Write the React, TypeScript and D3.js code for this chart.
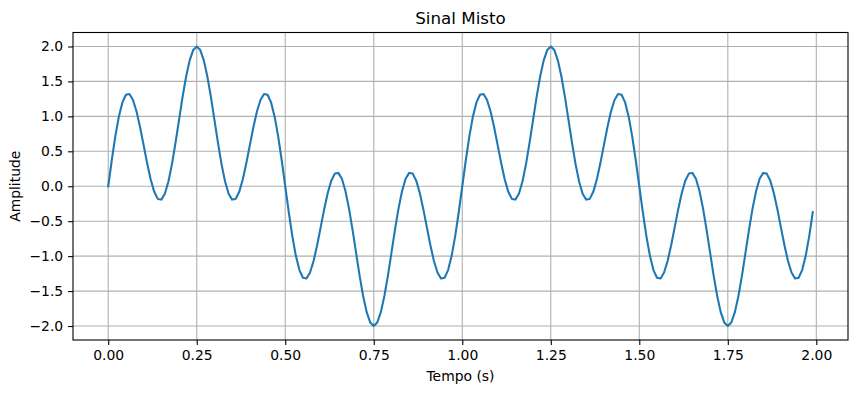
import React, { useEffect, useRef } from "react";
import * as d3 from "d3";

// sample spacing in seconds
const sampleStep = 0.01;

// signal amplitude, one value per sample (0.00 .. 1.99 s)
const amplitude = [
  0, 0.372, 0.713, 0.996, 1.2, 1.309, 1.319, 1.235, 1.07, 0.845,
  0.588, 0.328, 0.097, -0.08, -0.181, -0.191, -0.107, 0.067, 0.317, 0.621,
  0.951, 1.278, 1.57, 1.801, 1.949, 2.0, 1.949, 1.801, 1.57, 1.278,
  0.951, 0.621, 0.317, 0.067, -0.107, -0.191, -0.181, -0.08, 0.097, 0.328,
  0.588, 0.845, 1.07, 1.235, 1.319, 1.309, 1.2, 0.996, 0.713, 0.372,
  0, -0.372, -0.713, -0.996, -1.2, -1.309, -1.319, -1.235, -1.07, -0.845,
  -0.588, -0.328, -0.097, 0.08, 0.181, 0.191, 0.107, -0.067, -0.317, -0.621,
  -0.951, -1.278, -1.57, -1.801, -1.949, -2.0, -1.949, -1.801, -1.57, -1.278,
  -0.951, -0.621, -0.317, -0.067, 0.107, 0.191, 0.181, 0.08, -0.097, -0.328,
  -0.588, -0.845, -1.07, -1.235, -1.319, -1.309, -1.2, -0.996, -0.713, -0.372,
  0, 0.372, 0.713, 0.996, 1.2, 1.309, 1.319, 1.235, 1.07, 0.845,
  0.588, 0.328, 0.097, -0.08, -0.181, -0.191, -0.107, 0.067, 0.317, 0.621,
  0.951, 1.278, 1.57, 1.801, 1.949, 2.0, 1.949, 1.801, 1.57, 1.278,
  0.951, 0.621, 0.317, 0.067, -0.107, -0.191, -0.181, -0.08, 0.097, 0.328,
  0.588, 0.845, 1.07, 1.235, 1.319, 1.309, 1.2, 0.996, 0.713, 0.372,
  0, -0.372, -0.713, -0.996, -1.2, -1.309, -1.319, -1.235, -1.07, -0.845,
  -0.588, -0.328, -0.097, 0.08, 0.181, 0.191, 0.107, -0.067, -0.317, -0.621,
  -0.951, -1.278, -1.57, -1.801, -1.949, -2.0, -1.949, -1.801, -1.57, -1.278,
  -0.951, -0.621, -0.317, -0.067, 0.107, 0.191, 0.181, 0.08, -0.097, -0.328,
  -0.588, -0.845, -1.07, -1.235, -1.319, -1.309, -1.2, -0.996, -0.713, -0.372,
];

const xTicks = [0, 0.25, 0.5, 0.75, 1.0, 1.25, 1.5, 1.75, 2.0];
const yTicks = [-2.0, -1.5, -1.0, -0.5, 0.0, 0.5, 1.0, 1.5, 2.0];

const title = "Sinal Misto";
const xLabel = "Tempo (s)";
const yLabel = "Amplitude";

const SignalChart = () => {
  const chartRef = useRef<SVGSVGElement>(null);

  useEffect(() => {
    const width = 857;
    const height = 393;
    const marginLeft = 73;
    const marginRight = 9;
    const marginTop = 32.5;
    const marginBottom = 53;
    const font = "DejaVu Sans, sans-serif";

    const data = amplitude.map((v, i) => ({ t: i * sampleStep, v }));

    const tMax = d3.max(data, (d) => d.t);
    const padX = tMax * 0.05;
    const xScale = d3
      .scaleLinear()
      .domain([-padX, tMax + padX])
      .range([marginLeft, width - marginRight]);
    const yScale = d3
      .scaleLinear()
      .domain([-2.2, 2.2])
      .range([height - marginBottom, marginTop]);

    const svg = d3.select(chartRef.current);
    svg.selectAll("*").remove();

    svg
      .attr("width", width)
      .attr("height", height)
      .attr("viewBox", [0, 0, width, height])
      .style("background", "#fff");

    // grid
    svg
      .append("g")
      .selectAll("line")
      .data(xTicks)
      .join("line")
      .attr("x1", (d) => xScale(d))
      .attr("x2", (d) => xScale(d))
      .attr("y1", marginTop)
      .attr("y2", height - marginBottom)
      .attr("stroke", "#b0b0b0")
      .attr("stroke-width", 1.1);
    svg
      .append("g")
      .selectAll("line")
      .data(yTicks)
      .join("line")
      .attr("y1", (d) => yScale(d))
      .attr("y2", (d) => yScale(d))
      .attr("x1", marginLeft)
      .attr("x2", width - marginRight)
      .attr("stroke", "#b0b0b0")
      .attr("stroke-width", 1.1);

    const line = d3
      .line<{ t: number; v: number }>()
      .x((d) => xScale(d.t))
      .y((d) => yScale(d.v));

    svg
      .append("path")
      .datum(data)
      .attr("fill", "none")
      .attr("stroke", "#1f77b4")
      .attr("stroke-width", 2.08)
      .attr("stroke-linejoin", "round")
      .attr("stroke-linecap", "square")
      .attr("d", line);

    // frame
    svg
      .append("rect")
      .attr("x", marginLeft)
      .attr("y", marginTop)
      .attr("width", width - marginRight - marginLeft)
      .attr("height", height - marginBottom - marginTop)
      .attr("fill", "none")
      .attr("stroke", "#000")
      .attr("stroke-width", 1.1);

    const fmt = (digits: number) => (d: number) =>
      d.toFixed(digits).replace("-", "\u2212");

    const xAxis = d3
      .axisBottom(xScale)
      .tickValues(xTicks)
      .tickFormat(fmt(2))
      .tickSizeOuter(0)
      .tickSize(4.9)
      .tickPadding(4.9);
    const yAxis = d3
      .axisLeft(yScale)
      .tickValues(yTicks)
      .tickFormat(fmt(1))
      .tickSizeOuter(0)
      .tickSize(4.9)
      .tickPadding(4.9);

    svg
      .append("g")
      .attr("transform", `translate(0,${height - marginBottom})`)
      .call(xAxis)
      .call((g) => g.select(".domain").remove())
      .call((g) => g.selectAll(".tick line").attr("stroke-width", 1.1))
      .call((g) =>
        g
          .selectAll(".tick text")
          .attr("font-family", font)
          .attr("font-size", 13.9)
          .attr("fill", "#000")
      );

    svg
      .append("g")
      .attr("transform", `translate(${marginLeft},0)`)
      .call(yAxis)
      .call((g) => g.select(".domain").remove())
      .call((g) => g.selectAll(".tick line").attr("stroke-width", 1.1))
      .call((g) =>
        g
          .selectAll(".tick text")
          .attr("font-family", font)
          .attr("font-size", 13.9)
          .attr("fill", "#000")
      );

    svg
      .append("text")
      .attr("x", (marginLeft + width - marginRight) / 2)
      .attr("y", marginTop - 8.3)
      .attr("text-anchor", "middle")
      .attr("font-family", font)
      .attr("font-size", 16.7)
      .text(title);

    svg
      .append("text")
      .attr("x", (marginLeft + width - marginRight) / 2)
      .attr("y", 381)
      .attr("text-anchor", "middle")
      .attr("font-family", font)
      .attr("font-size", 13.9)
      .text(xLabel);

    svg
      .append("text")
      .attr("transform", `translate(20,${(marginTop + height - marginBottom) / 2}) rotate(-90)`)
      .attr("text-anchor", "middle")
      .attr("font-family", font)
      .attr("font-size", 13.9)
      .text(yLabel);
  }, []);

  return <svg ref={chartRef}></svg>;
};

export default function App() {
  return (
    <div style={{ position: "absolute", left: 0, top: 0 }}>
      <SignalChart />
    </div>
  );
}
